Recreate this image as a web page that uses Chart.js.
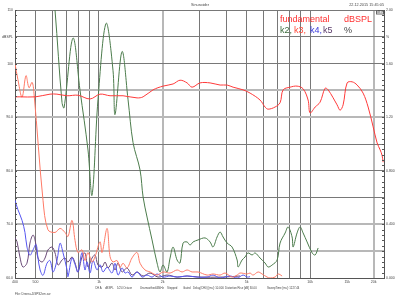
<!DOCTYPE html>
<html>
<head>
<meta charset="utf-8">
<script src="https://cdn.jsdelivr.net/npm/chart.js@4"></script>
<style>
html, body { margin: 0; padding: 0; background: #fff; }
</style>
</head>
<body>
<canvas id="myChart" width="400" height="300"></canvas>
<script>
'use strict';

// frequency axis
const freqTicks = [400, 500, 600, 700, 800, 900, 1000, 2000, 3000, 4000, 5000, 6000, 7000, 8000, 9000, 10000, 15000, 20000];
const freqLabels = { 400: '400', 500: '500', 1000: '1k', 2000: '2k', 5000: '5k', 10000: '10k', 15000: '15k', 20000: '20k' };

// left axis (dBSPL)
const dbTicks = [60, 65, 70, 75, 80, 85, 90, 95, 100, 105, 110];
const dbLabels = { 110: '110', 105: 'dBSPL', 100: '100', 90: '90.0', 80: '80.0', 70: '70.0', 60: '60.0' };

// right axis (%)
const pctTicks = [0, 0.4, 0.8, 1.2, 1.6, 1.8, 2.0];
const pctLabels = { 0: '0.000', 0.4: '0.400', 0.8: '0.800', 1.2: '1.20', 1.6: '1.60', 1.8: '%', 2: '2.00' };

// fundamental, dBSPL
const fundFreq = [400, 422, 500, 586, 632, 706, 795, 907, 1011, 1128, 1300, 1515, 1618, 1803, 2011, 2244, 2421, 2614, 2760, 3011, 3359, 3747, 4044, 4318, 4816, 5196, 5795, 6120, 6327, 6827, 7209, 7454, 8040, 8676, 9268, 9787, 10000, 10570, 11150, 11780, 12180, 13430, 13870, 14340, 14980, 15820, 16710, 17830, 18840, 19900, 20780, 21480, 21930, 22190];
const fundDb = [93.8, 93.8, 93.8, 94.3, 94.3, 94.0, 94.1, 93.4, 94.3, 94.0, 94.0, 93.6, 93.8, 95.1, 95.8, 96.2, 96.9, 96.4, 95.6, 96.4, 96.4, 96.0, 96.0, 95.6, 95.1, 94.5, 93.2, 91.9, 91.5, 91.9, 92.7, 95.1, 95.6, 95.8, 95.3, 93.2, 90.8, 91.9, 92.8, 95.4, 95.1, 92.3, 91.3, 92.3, 96.4, 96.6, 96.0, 94.5, 91.9, 88.2, 85.2, 83.9, 82.9, 81.6];

// harmonics, %
const k2Freq = [599, 619, 668, 683, 753, 813, 887, 927, 989, 1080, 1165, 1191, 1286, 1373, 1450, 1565, 1618, 1689, 1784, 1884, 1946, 2011, 2100, 2171, 2244, 2344, 2421, 2502, 2614, 2700, 2791, 2946, 3181, 3359, 3471, 3626, 3747, 3871, 4044, 4272, 4513, 4561, 4762, 4920, 5085, 5313, 5490, 5795, 6120, 6327, 6609, 6980, 7209, 7618, 7870, 8220, 8310, 8676, 8967, 9268, 9682, 10230, 10570, 10920];
const k2Pct = [2.23, 2.0, 1.31, 1.27, 1.79, 1.40, 0.955, 0.619, 1.33, 1.90, 1.55, 1.22, 1.69, 1.33, 1.01, 0.806, 0.604, 0.455, 0.284, 0.112, 0.045, 0.097, 0.045, 0.149, 0.231, 0.134, 0.112, 0.261, 0.269, 0.246, 0.269, 0.284, 0.299, 0.269, 0.231, 0.306, 0.343, 0.306, 0.261, 0.231, 0.134, 0.082, 0.134, 0.157, 0.187, 0.172, 0.187, 0.149, 0.112, 0.082, 0.097, 0.134, 0.261, 0.336, 0.381, 0.306, 0.231, 0.336, 0.381, 0.336, 0.269, 0.187, 0.172, 0.224];

const k3Freq = [400, 413, 432, 451, 466, 482, 492, 543, 573, 619, 654, 690, 713, 745, 770, 795, 831, 858, 887, 927, 958, 1011, 1034, 1092, 1128, 1165, 1218, 1258, 1300, 1358, 1434, 1515, 1565, 1652, 1745, 1884, 2011, 2171, 2344, 2475, 2614, 2760, 2946, 3252, 3471, 3747, 3957, 4272, 4513, 4661, 5032, 5196, 5371, 5672, 5924, 6256, 6468, 6827, 7057, 7372];
const k3Pct = [1.60, 1.48, 1.35, 1.51, 1.42, 1.46, 1.38, 0.58, 0.36, 0.34, 0.37, 0.34, 0.31, 0.43, 0.28, 0.19, 0.21, 0.13, 0.19, 0.12, 0.16, 0.27, 0.19, 0.37, 0.16, 0.12, 0.13, 0.08, 0.11, 0.075, 0.15, 0.19, 0.11, 0.06, 0.045, 0.022, 0.045, 0.037, 0.06, 0.045, 0.06, 0.045, 0.045, 0.022, 0.03, 0.022, 0.037, 0.007, 0.022, 0.037, 0.03, 0.037, 0.022, 0.045, 0.03, 0.007, 0.0, 0.007, 0.03, 0.015];

const k4Freq = [400, 413, 432, 446, 456, 471, 487, 503, 514, 526, 543, 567, 586, 606, 632, 654, 675, 706, 713, 745, 770, 795, 831, 858, 878, 907, 937, 979, 1011, 1045, 1092, 1153, 1191, 1231, 1286, 1329, 1373, 1434, 1515, 1600, 1689, 1784, 1884, 2011, 2171, 2344, 2614, 2916, 3252, 3471, 3747, 4178, 4513, 4816, 5032, 5196];
const k4Pct = [0.58, 0.51, 0.43, 0.34, 0.23, 0.17, 0.21, 0.25, 0.15, 0.06, 0.02, 0.11, 0.13, 0.045, 0.13, 0.26, 0.19, 0.06, 0.01, 0.15, 0.10, 0.045, 0.19, 0.06, 0.12, 0.037, 0.13, 0.06, 0.10, 0.045, 0.08, 0.037, 0.11, 0.022, 0.075, 0.037, 0.045, 0.007, 0.045, 0.007, 0.022, 0.007, 0.03, 0.007, 0.015, 0.007, 0.015, 0.007, 0.007, 0.022, 0.0, 0.015, 0.0, 0.022, 0.007, 0.01];

const k5Freq = [400, 409, 422, 436, 456, 471, 487, 500, 514, 537, 555, 573, 599, 619, 640, 668, 690, 713, 745, 770, 795, 831, 858, 887, 927, 958, 989, 1034, 1068, 1104, 1153, 1191, 1231, 1286, 1358, 1434, 1515, 1618, 1745, 1905, 2100, 2344, 2614, 2946, 3871, 4661];
const k5Pct = [0.30, 0.27, 0.157, 0.082, 0.112, 0.261, 0.321, 0.269, 0.149, 0.119, 0.149, 0.209, 0.231, 0.187, 0.097, 0.134, 0.149, 0.119, 0.157, 0.112, 0.045, 0.157, 0.187, 0.082, 0.149, 0.172, 0.097, 0.082, 0.119, 0.075, 0.112, 0.06, 0.112, 0.045, 0.075, 0.022, 0.045, 0.015, 0.037, 0.007, 0.022, 0.007, 0.015, 0.007, 0.007, 0.015];

// footer info line
const infoParts = ['CH A', 'dBSPL', '1/24 Octave', 'Unsmoothed', '48kHz', 'Stepped', 'Gated', 'Delay(CH0) [ms]: 10.000', 'Distortion Rise [dB] 30.00', 'SweepTime [ms]: 1227.44'];
const infoX = [95, 105, 117, 140, 156, 167, 183, 193, 225, 267];

function pts(xs, ys) {
  return xs.map((x, i) => ({ x: x, y: ys[i] }));
}

function line(label, xs, ys, color, axis) {
  return {
    label: label,
    data: pts(xs, ys),
    borderColor: color,
    borderWidth: 1,
    pointRadius: 0,
    tension: 0.35,
    fill: false,
    yAxisID: axis
  };
}

const tickFont = { family: 'Liberation Sans', size: 3.5 };
const gray = ['#b8b8b8', 2];
const dark = ['#787878', 1];

function xGrid(v) {
  if (v === 15000) return ['rgba(0,0,0,0)', 1];
  if (v === 2000 || v === 20000) return gray;
  return dark;
}
function yGrid(v) {
  if (v === 95 || v === 90 || v === 70 || v === 65) return gray;
  return dark;
}

// little inside tick marks + texts
const decor = {
  id: 'decor',
  afterDatasetsDraw(chart) {
    const c = chart.ctx;
    const a = chart.chartArea;
    const yl = chart.scales.y;
    c.save();
    c.strokeStyle = '#555';
    c.lineWidth = 1;
    for (let v = 60; v <= 110; v++) {
      const py = Math.round(yl.getPixelForValue(v)) + 0.5;
      c.beginPath();
      c.moveTo(a.left, py); c.lineTo(a.left + 2, py);
      c.moveTo(a.right - 2, py); c.lineTo(a.right, py);
      c.stroke();
    }
    c.restore();
  },
  afterDraw(chart) {
    const c = chart.ctx;
    const a = chart.chartArea;
    c.save();
    c.textBaseline = 'alphabetic';
    c.font = '3.8px "Liberation Sans"';
    c.fillStyle = '#444';
    c.textAlign = 'center';
    c.fillText('Sinusoider', 200, 6);
    c.textAlign = 'right';
    c.fillText('22.12.2015 15:45:05', 384, 6);
    c.textAlign = 'left';
    c.font = '2.8px "Liberation Sans"';
    infoParts.forEach((t, i) => c.fillText(t, infoX[i], 289));
    c.font = '3px "Liberation Sans"';
    c.fillText('File: Dreess-DSPS2cm.sw', 15, 295);
    // small unit box in corner
    c.strokeStyle = '#666';
    c.strokeRect(a.right - 7.5, a.top + 0.5, 7, 3.5);
    c.font = '2.6px "Liberation Sans"';
    c.fillText('dBSPL', a.right - 7, a.top + 3.3);

    c.font = '9px "Liberation Sans"';
    c.fillStyle = '#ff3030';
    c.fillText('fundamental', 280, 22);
    c.fillText('dBSPL', 344, 22);
    const parts = [['k2,', '#3d6b3d', 280], ['k3,', '#ff4a3a', 294], ['k4,', '#3a3adc', 310], ['k5', '#5a3a6a', 323]];
    parts.forEach(p => {
      c.fillStyle = p[1];
      c.fillText(p[0], p[2], 33);
    });
    c.fillStyle = '#444';
    c.fillText('%', 344, 33);
    c.restore();
  }
};

const ctx = document.getElementById('myChart').getContext('2d');
const myChart = new Chart(ctx, {
  type: 'line',
  data: {
    datasets: [
      line('fundamental', fundFreq, fundDb, '#ff3a3a', 'y'),
      line('k2', k2Freq, k2Pct, '#4c7c4c', 'y1'),
      line('k3', k3Freq, k3Pct, '#ff7a66', 'y1'),
      line('k4', k4Freq, k4Pct, '#5555f0', 'y1'),
      line('k5', k5Freq, k5Pct, '#6a4a78', 'y1')
    ]
  },
  options: {
    responsive: false,
    animation: false,
    devicePixelRatio: 1,
    layout: { padding: { top: 10, left: 0, right: 0, bottom: 0 } },
    plugins: { legend: { display: false }, tooltip: { enabled: false } },
    scales: {
      x: {
        type: 'logarithmic',
        min: 400,
        max: 22400,
        afterBuildTicks: s => { s.ticks = freqTicks.map(v => ({ value: v })); },
        afterFit: s => { s.height = 22; },
        ticks: {
          autoSkip: false, maxRotation: 0, padding: 2,
          font: tickFont, color: '#444',
          callback: v => freqLabels[v] || ''
        },
        grid: {
          drawTicks: false,
          color: c => xGrid(c.tick ? c.tick.value : 0)[0],
          lineWidth: c => xGrid(c.tick ? c.tick.value : 0)[1]
        },
        border: { color: '#555' }
      },
      y: {
        position: 'left',
        min: 60,
        max: 110,
        afterBuildTicks: s => { s.ticks = dbTicks.map(v => ({ value: v })); },
        afterFit: s => { s.width = 15; },
        ticks: {
          padding: 2, font: tickFont, color: '#444',
          callback: v => dbLabels[v] || ''
        },
        grid: {
          drawTicks: false,
          color: c => yGrid(c.tick ? c.tick.value : 0)[0],
          lineWidth: c => yGrid(c.tick ? c.tick.value : 0)[1]
        },
        border: { color: '#555' }
      },
      y1: {
        position: 'right',
        min: 0,
        max: 2,
        afterBuildTicks: s => { s.ticks = pctTicks.map(v => ({ value: v })); },
        afterFit: s => { s.width = 16; },
        ticks: {
          padding: 2, font: tickFont, color: '#444',
          callback: v => pctLabels[Math.round(v * 10) / 10] || ''
        },
        grid: { drawOnChartArea: false, drawTicks: false },
        border: { color: '#555' }
      }
    }
  },
  plugins: [decor]
});
</script>
</body>
</html>
